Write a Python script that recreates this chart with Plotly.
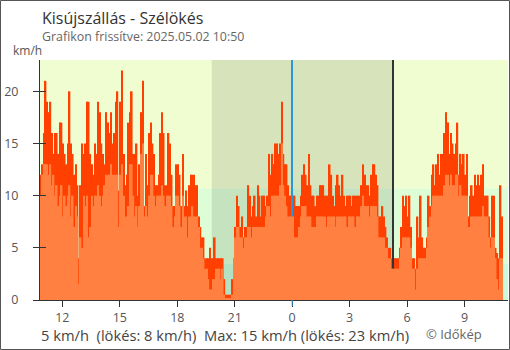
import pandas as pd
import plotly.graph_objects as go

# ---------------- data ----------------
START = "2025-05-01 10:50"
STEP = "5min"

# wind gust (km/h), one value per 5 minutes
gust = [12, 13, 16, 21, 19, 18, 19, 16, 14, 16,
        16, 14, 17, 17, 15, 14, 13, 15, 20, 15,
        14, 12, 13, 11, 4, 11, 15, 14, 15, 19,
        19, 14, 13, 12, 15, 14, 19, 18, 15, 14,
        13, 18, 17, 16, 18, 15, 16, 19, 20,
        10.5, 19, 22, 14, 11, 12, 17, 18, 20, 14,
        14, 15, 10, 13, 18, 21, 9, 14, 11, 16,
        17, 15, 14, 11, 11, 12, 16, 18, 16, 11,
        11, 16, 15, 12, 9, 9, 13, 13, 12, 9,
        14, 9, 10.5, 9, 11, 12, 12, 12, 11, 11,
        8,
        7, 6, 6, 4, 4, 4, 5, 4, 4, 6,
        4, 4, 4, 4, 4, 2, 0.5, 0.5, 0.5, 0.5,
        2, 4, 7, 10, 9, 7, 8, 6, 7, 7,
        11, 10, 8, 9, 10, 8, 11, 10, 8, 10,
        10, 9, 10, 14, 12, 14, 13, 15, 15, 14,
        15, 19, 14, 13, 13, 11, 10, 10, 10, 10,
        9, 9, 9, 10, 12, 13, 12, 11, 14, 11,
        10, 10, 9, 10, 10, 11, 11, 11, 10, 10,
        10, 13, 12, 10, 9, 11, 12, 11, 10, 12,
        10, 9, 10, 10, 10, 9, 10, 10, 10, 10,
        10,
        11, 13, 12, 11, 11, 10, 12, 13, 13, 12,
        11, 8, 8, 9, 8, 7, 6, 5, 5, 4,
        4, 4, 4, 4, 5, 7, 10, 9, 10, 8,
        10, 7, 4, 4, 3, 8, 6, 10, 6, 5,
        5, 6, 10, 9, 12, 13, 11, 13, 14, 12,
        14, 14, 16, 18, 17, 14, 16, 15, 14, 15,
        17, 12, 14, 13, 14, 12, 14, 8, 10, 11,
        10, 12, 11, 12, 11, 12, 13, 10, 10, 10,
        8, 6, 10, 10, 5, 4.5, 4, 11, 8]

# mean wind speed (km/h), one value per 5 minutes
avg = [10, 12, 13, 13, 13, 12, 13, 11, 12, 10,
       11, 9, 10, 11, 8, 10, 9, 10, 11, 8,
       10, 7, 9, 8, 1.5, 6, 5, 10, 9, 10,
       6, 7, 10, 9, 10, 10, 11, 10, 9, 10,
       11, 12, 12, 12, 13, 12, 12, 12, 12,
       7, 12, 13, 10, 8, 8, 9, 13, 13, 10,
       8, 9, 7, 9, 14, 15, 8, 9, 8, 10,
       12, 12, 10, 9, 10, 10, 10, 11, 10, 9,
       10, 10, 10, 9, 7, 8, 10, 10, 9, 7,
       10, 8, 8, 6, 8, 8, 9, 8, 8, 8,
       7,
       5, 5, 4, 3, 3, 2, 1, 1, 2, 2,
       3, 3, 3, 2, 3, 0.5, 0.2, 0.2, 0.2, 0.2,
       0.5, 4, 6, 7, 7, 6, 6, 5, 6, 6,
       7, 7, 6, 7, 7, 7, 7, 7, 7, 7,
       7, 8, 9, 9, 8, 10, 10, 10, 10, 10,
       11, 15, 11, 10, 9, 8, 8, 8, 8, 6,
       6, 6, 7, 8, 9, 9, 9, 8, 8, 8,
       7, 7, 7, 8, 8, 8, 8, 8, 8, 7,
       8, 8, 8, 8, 8, 7, 8, 8, 8, 8,
       8, 8, 7, 8, 8, 8, 8, 7, 8, 8,
       8,
       9, 10, 9, 9, 9, 8, 9, 9, 9, 9,
       8, 6, 6, 6, 6, 5, 5, 4, 4, 3,
       3, 3, 3, 3, 4, 5, 6, 6, 6, 6,
       6, 5, 3, 3, 1, 3, 4, 4, 4, 4,
       4, 5, 7, 8, 9, 10, 10, 10, 10, 10,
       10, 10, 11, 12, 12, 11, 12, 11, 11, 12,
       12, 10, 11, 10, 10, 10, 10, 7, 7, 8,
       8, 8, 8, 8, 8, 8, 9, 8, 8, 8,
       6, 5, 6, 6, 4, 2, 1, 4, 4]

X_RANGE = ["2025-05-01 10:50", "2025-05-02 11:16"]
TICK_TIMES = ["2025-05-01 12:00", "2025-05-01 15:00", "2025-05-01 18:00",
              "2025-05-01 21:00", "2025-05-02 00:00", "2025-05-02 03:00",
              "2025-05-02 06:00", "2025-05-02 09:00"]
TICK_LABELS = ["12", "15", "18", "21", "0", "3", "6", "9"]
Y_TICKS = [0, 5, 10, 15, 20]
Y_MAX = 23
SUNSET = "2025-05-01 19:48"
SUNRISE = "2025-05-02 05:16"
MIDNIGHT = "2025-05-02 00:00"
BAND_LIMITS = [0, 3.5, 10.7, Y_MAX]
BAND_COLORS = ["#c9fadb", "#dcfdd5", "#effdd1"]

TITLE = "Kisújszállás - Szélökés"
SUBTITLE = "Grafikon frissítve: 2025.05.02 10:50"
UNIT = "km/h"
SUMMARY = "5 km/h\u00a0\u00a0(lökés: 8 km/h)\u00a0\u00a0Max: 15 km/h (lökés: 23 km/h)"
CREDIT = "© Időkép"

# ---------------- figure ----------------
W, H = 510, 350
ML, MR, MT, MB = 40, 2, 60, 50
PW, PH = W - ML - MR, H - MT - MB


def px(xp):
    return (xp - ML) / PW


def py(yp):
    return (H - MB - yp) / PH


FONT = "Open Sans"
times = pd.date_range(START, periods=len(gust), freq=STEP)
step_ms = pd.Timedelta(STEP).total_seconds() * 1000
line_ms = 200000

fig = go.Figure()
fig.add_trace(go.Bar(x=times, y=gust, width=step_ms, offset=0,
                     marker=dict(color="#ff4000", line=dict(width=0)),
                     hoverinfo="skip"))
fig.add_trace(go.Bar(x=[pd.Timestamp(MIDNIGHT)], y=[Y_MAX], width=line_ms,
                     offset=-line_ms / 2,
                     marker=dict(color="#2a96dc", line=dict(width=0))))
fig.add_trace(go.Bar(x=[pd.Timestamp(SUNRISE)], y=[Y_MAX], width=line_ms,
                     offset=-line_ms / 2,
                     marker=dict(color="#333333", line=dict(width=0))))
fig.add_trace(go.Bar(x=times, y=avg, width=step_ms, offset=0,
                     marker=dict(color="#ff8040", line=dict(width=0)),
                     hoverinfo="skip"))
fig.add_trace(go.Scatter(x=[], y=[], yaxis="y2", showlegend=False))

shapes = []
for k, col in enumerate(BAND_COLORS):
    shapes.append(dict(type="rect", xref="x", yref="y", x0=X_RANGE[0], x1=X_RANGE[1],
                       y0=BAND_LIMITS[k], y1=BAND_LIMITS[k + 1], fillcolor=col,
                       line=dict(width=0), layer="below"))
shapes.append(dict(type="rect", xref="x", yref="y", x0=SUNSET, x1=SUNRISE,
                   y0=0, y1=Y_MAX, fillcolor="rgba(0,0,0,0.1)",
                   line=dict(width=0), layer="below"))
shapes.append(dict(type="line", xref="x", yref="paper", x0=MIDNIGHT, x1=MIDNIGHT,
                   y0=0, y1=-6 / PH, line=dict(color="#2a96dc", width=1)))
shapes.append(dict(type="rect", xref="paper", yref="paper",
                   x0=px(0.5), x1=px(W - 0.5), y0=py(H - 0.5), y1=py(0.5),
                   line=dict(color="#555555", width=1), fillcolor="rgba(0,0,0,0)"))

annotations = [
    dict(text=TITLE, x=px(40), y=py(18), xanchor="left", yanchor="middle",
         font=dict(size=16, color="#333333", family=FONT)),
    dict(text=SUBTITLE, x=px(40), y=py(37), xanchor="left", yanchor="middle",
         font=dict(size=12.4, color="#666666", family=FONT)),
    dict(text=UNIT, x=px(11), y=py(51), xanchor="left", yanchor="middle",
         font=dict(size=12, color="#555555", family=FONT)),
    dict(text=SUMMARY, x=px(39), y=py(335), xanchor="left", yanchor="middle",
         font=dict(size=14.7, color="#444444", family=FONT)),
    dict(text=CREDIT, x=px(424), y=py(334), xanchor="left", yanchor="middle",
         font=dict(size=13, color="#666666", family=FONT)),
]
for a in annotations:
    a.update(xref="paper", yref="paper", showarrow=False)

fig.update_layout(
    width=W, height=H, margin=dict(l=ML, r=MR, t=MT, b=MB, pad=0),
    paper_bgcolor="white", plot_bgcolor="white",
    barmode="overlay", showlegend=False,
    shapes=shapes, annotations=annotations,
    font=dict(family=FONT, color="#555555"),
    xaxis=dict(type="date", range=X_RANGE, tickvals=TICK_TIMES, ticktext=TICK_LABELS,
               ticks="outside", ticklen=6, tickcolor="#333333", showline=True,
               linecolor="#333333", linewidth=1, showgrid=False, zeroline=False,
               tickfont=dict(size=12.5, color="#555555", family=FONT)),
    yaxis=dict(range=[0, Y_MAX], tickvals=Y_TICKS, ticks="outside", ticklen=6,
               tickcolor="#333333", showline=True, linecolor="#333333", linewidth=1,
               showgrid=False, zeroline=False, ticklabelstandoff=12,
               tickfont=dict(size=12.5, color="#555555", family=FONT)),
    yaxis2=dict(range=[0, Y_MAX], tickvals=Y_TICKS, overlaying="y", side="left",
                anchor="x", ticks="inside", ticklen=6, tickcolor="#333333",
                showticklabels=False, showline=False, showgrid=False, zeroline=False),
)

fig.write_html("out.html")
